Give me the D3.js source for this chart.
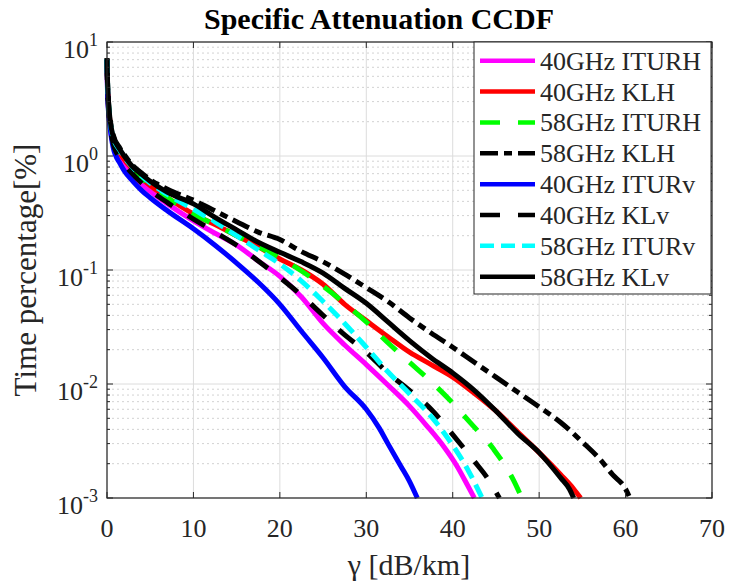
<!DOCTYPE html>
<html>
<head>
<meta charset="utf-8">
<script src="https://cdn.jsdelivr.net/npm/d3@7"></script>
<style>
  body { margin: 0; background: #fff; }
  svg { display: block; }
  svg text { font-family: "Liberation Serif", "Times New Roman", serif; }
</style>
</head>
<body>
<svg id="chart" width="729" height="586" font-family="Liberation Serif, serif"></svg>
<script>
// values (gamma in dB/km, time percentage in %)
const g40ITURH = [0, 0.05, 0.15, 0.35, 0.7, 1.5, 2, 3, 4, 5, 7, 10, 12.5, 15, 17.5, 20, 22.5, 25, 27.5, 30, 32.5, 35, 37, 39, 40.5, 41.7, 42.5];
const p40ITURH = [7, 4.2, 2.75, 1.85, 1.27, 0.94, 0.82, 0.67, 0.57, 0.49, 0.38, 0.27, 0.21, 0.165, 0.12, 0.088, 0.058, 0.034, 0.022, 0.0148, 0.0098, 0.0064, 0.0043, 0.0028, 0.0019, 0.0013, 0.001];

const g40KLH = [0, 0.05, 0.15, 0.35, 0.7, 1.5, 2, 3, 4, 5, 7, 10, 12.5, 15, 17.5, 20, 22.5, 25, 27.5, 30, 32.5, 35, 37.5, 40, 42.5, 45, 47.5, 50, 52.5, 54, 54.8];
const p40KLH = [7, 4.5, 3.0, 1.98, 1.4, 1.06, 0.93, 0.76, 0.64, 0.55, 0.43, 0.31, 0.25, 0.2, 0.16, 0.125, 0.1, 0.075, 0.05, 0.036, 0.026, 0.019, 0.0148, 0.0115, 0.0083, 0.0058, 0.0038, 0.0025, 0.0016, 0.0012, 0.001];

const g58ITURH = [0, 0.05, 0.15, 0.35, 0.7, 1.5, 2, 3, 4, 5, 7, 10, 12.5, 15, 17.5, 20, 22.5, 25, 27.5, 30, 32.5, 35, 37.5, 40, 42, 44.7, 47, 48];
const p58ITURH = [7, 4.5, 3.0, 1.98, 1.4, 1.06, 0.93, 0.76, 0.64, 0.55, 0.43, 0.31, 0.25, 0.2, 0.16, 0.128, 0.098, 0.072, 0.051, 0.035, 0.023, 0.0155, 0.0105, 0.0068, 0.0046, 0.0027, 0.00145, 0.001];

const g58KLH = [0, 0.05, 0.15, 0.35, 0.7, 1.5, 2, 3, 4, 5, 7, 10, 12.5, 15, 17.5, 20, 22.5, 25, 27.5, 30, 32.5, 35, 37.5, 40, 42.5, 45, 47.5, 50, 52.5, 55, 57, 58.5, 60, 60.5];
const p58KLH = [7.2, 4.8, 3.2, 2.15, 1.55, 1.17, 1.03, 0.82, 0.71, 0.62, 0.51, 0.41, 0.33, 0.265, 0.215, 0.185, 0.145, 0.118, 0.092, 0.07, 0.053, 0.038, 0.028, 0.021, 0.0155, 0.0115, 0.0085, 0.0063, 0.0046, 0.0031, 0.0022, 0.0016, 0.0012, 0.001];

const g40ITURv = [0, 0.05, 0.15, 0.35, 0.7, 1.5, 2, 3, 4, 5, 7, 10, 12.5, 15, 17.5, 20, 22.5, 25, 27.5, 30, 31.5, 32.5, 34, 35, 35.9];
const p40ITURv = [7, 4.0, 2.6, 1.8, 1.2, 0.86, 0.74, 0.6, 0.5, 0.43, 0.33, 0.23, 0.165, 0.115, 0.078, 0.05, 0.029, 0.017, 0.0095, 0.006, 0.0041, 0.003, 0.0019, 0.0014, 0.001];

const g40KLv = [0, 0.05, 0.15, 0.35, 0.7, 1.5, 2, 3, 4, 5, 7, 10, 12.5, 15, 17.5, 20, 22.5, 25, 27.5, 30, 32.5, 35, 37.5, 40, 42.5, 44, 45.4];
const p40KLv = [7, 4.3, 2.8, 1.9, 1.3, 0.96, 0.85, 0.69, 0.58, 0.5, 0.39, 0.28, 0.215, 0.165, 0.12, 0.086, 0.06, 0.04, 0.027, 0.019, 0.0125, 0.0088, 0.006, 0.0036, 0.0021, 0.0015, 0.001];

const g58ITURv = [0, 0.05, 0.15, 0.35, 0.7, 1.5, 2, 3, 4, 5, 7, 10, 12.5, 15, 17.5, 20, 22.5, 25, 27.5, 30, 32.5, 35, 37.5, 40, 41.7, 43.4];
const p58ITURv = [7.1, 4.7, 3.1, 2.05, 1.47, 1.12, 0.98, 0.79, 0.67, 0.58, 0.46, 0.34, 0.265, 0.2, 0.15, 0.113, 0.08, 0.053, 0.034, 0.021, 0.0128, 0.0082, 0.0052, 0.0029, 0.0018, 0.001];

const g58KLv = [0, 0.05, 0.15, 0.35, 0.7, 1.5, 2, 3, 4, 5, 7, 10, 12.5, 15, 17.5, 20, 22.5, 25, 27.5, 30, 32.5, 35, 37.5, 40, 42.5, 45, 47.5, 50, 52.5, 53.5, 54];
const p58KLv = [7.2, 4.8, 3.2, 2.1, 1.5, 1.14, 1.0, 0.8, 0.69, 0.6, 0.48, 0.38, 0.29, 0.225, 0.175, 0.143, 0.118, 0.094, 0.069, 0.051, 0.035, 0.024, 0.017, 0.0125, 0.0088, 0.0058, 0.0037, 0.0025, 0.0015, 0.0012, 0.001];

const seriesNames = ["40GHz ITURH", "40GHz KLH", "58GHz ITURH", "58GHz KLH", "40GHz ITURv", "40GHz KLv", "58GHz ITURv", "58GHz KLv"];
const xTicks = [0, 10, 20, 30, 40, 50, 60, 70];
const yExponents = [1, 0, -1, -2, -3];

// styles per series (same order as names)
const styles = [
    { color: "#ff00ff", dash: null },
    { color: "#ff0000", dash: null },
    { color: "#00ff00", dash: "20,18" },
    { color: "#000000", dash: "18,6,8,6" },
    { color: "#0000ff", dash: null },
    { color: "#000000", dash: "20,18" },
    { color: "#00ffff", dash: "14,7" },
    { color: "#000000", dash: null }
];

const series = [
    [g40ITURH, p40ITURH], [g40KLH, p40KLH], [g58ITURH, p58ITURH], [g58KLH, p58KLH],
    [g40ITURv, p40ITURv], [g40KLv, p40KLv], [g58ITURv, p58ITURv], [g58KLv, p58KLv]
].map(([g, p], i) => ({
    name: seriesNames[i],
    style: styles[i],
    points: g.map((v, j) => ({ g: v, p: p[j] }))
}));

const svg = d3.select("#chart");
const plotLeft = 107, plotRight = 712, plotTop = 42, plotBottom = 498;
const axisColor = "#262626";

const x = d3.scaleLinear().domain([0, 70]).range([plotLeft, plotRight]);
const y = d3.scaleLog().domain([1e-3, 10]).range([plotBottom, plotTop]);

// grid
const grid = svg.append("g");
const minorVals = [];
for (let e = -3; e < 1; e++) {
    for (let k = 2; k <= 9; k++) minorVals.push(k * Math.pow(10, e));
}
grid.selectAll(".minor")
    .data(minorVals)
    .enter()
    .append("line")
    .attr("x1", plotLeft).attr("x2", plotRight)
    .attr("y1", d => y(d)).attr("y2", d => y(d))
    .attr("stroke", "#d2d2d2")
    .attr("stroke-width", 1)
    .attr("stroke-dasharray", "2,3");

grid.selectAll(".majorY")
    .data(yExponents)
    .enter()
    .append("line")
    .attr("x1", plotLeft).attr("x2", plotRight)
    .attr("y1", d => y(Math.pow(10, d))).attr("y2", d => y(Math.pow(10, d)))
    .attr("stroke", "#dcdcdc")
    .attr("stroke-width", 1);

grid.selectAll(".majorX")
    .data(xTicks)
    .enter()
    .append("line")
    .attr("x1", d => x(d)).attr("x2", d => x(d))
    .attr("y1", plotTop).attr("y2", plotBottom)
    .attr("stroke", "#dcdcdc")
    .attr("stroke-width", 1);

// curves
const line = d3.line()
    .x(d => x(d.g))
    .y(d => y(d.p))
    .curve(d3.curveMonotoneX);

svg.append("g")
    .selectAll("path")
    .data(series)
    .enter()
    .append("path")
    .attr("d", d => line(d.points))
    .attr("fill", "none")
    .attr("stroke", d => d.style.color)
    .attr("stroke-width", 5)
    .attr("stroke-dasharray", d => d.style.dash);

// frame and ticks
const axes = svg.append("g");
axes.append("rect")
    .attr("x", plotLeft).attr("y", plotTop)
    .attr("width", plotRight - plotLeft).attr("height", plotBottom - plotTop)
    .attr("fill", "none")
    .attr("stroke", axisColor)
    .attr("stroke-width", 1.2);

xTicks.forEach(t => {
    axes.append("line").attr("x1", x(t)).attr("x2", x(t)).attr("y1", plotBottom).attr("y2", plotBottom - 6).attr("stroke", axisColor);
    axes.append("line").attr("x1", x(t)).attr("x2", x(t)).attr("y1", plotTop).attr("y2", plotTop + 6).attr("stroke", axisColor);
});
yExponents.forEach(e => {
    const yy = y(Math.pow(10, e));
    axes.append("line").attr("x1", plotLeft).attr("x2", plotLeft + 6).attr("y1", yy).attr("y2", yy).attr("stroke", axisColor);
    axes.append("line").attr("x1", plotRight).attr("x2", plotRight - 6).attr("y1", yy).attr("y2", yy).attr("stroke", axisColor);
});
minorVals.forEach(v => {
    const yy = y(v);
    axes.append("line").attr("x1", plotLeft).attr("x2", plotLeft + 3).attr("y1", yy).attr("y2", yy).attr("stroke", axisColor);
    axes.append("line").attr("x1", plotRight).attr("x2", plotRight - 3).attr("y1", yy).attr("y2", yy).attr("stroke", axisColor);
});

// tick labels
axes.selectAll(".xlab")
    .data(xTicks)
    .enter()
    .append("text")
    .attr("x", d => x(d))
    .attr("y", 537)
    .attr("text-anchor", "middle")
    .attr("font-size", 26)
    .attr("fill", axisColor)
    .text(d => d);

const yLabels = axes.selectAll(".ylab")
    .data(yExponents)
    .enter()
    .append("text")
    .attr("x", 98)
    .attr("y", d => y(Math.pow(10, d)) + 16)
    .attr("text-anchor", "end")
    .attr("font-size", 26)
    .attr("fill", axisColor);
yLabels.append("tspan").text("10");
yLabels.append("tspan").attr("dy", -12).attr("font-size", 18).text(d => d);

// axis titles
svg.append("text")
    .attr("x", 379)
    .attr("y", 29)
    .attr("text-anchor", "middle")
    .attr("font-size", 30)
    .attr("font-weight", "bold")
    .text("Specific Attenuation CCDF");

svg.append("text")
    .attr("x", 409)
    .attr("y", 575)
    .attr("text-anchor", "middle")
    .attr("font-size", 30)
    .attr("fill", axisColor)
    .text("γ [dB/km]");

svg.append("text")
    .attr("transform", `translate(36,${(plotTop + plotBottom) / 2}) rotate(-90)`)
    .attr("text-anchor", "middle")
    .attr("font-size", 31)
    .attr("fill", axisColor)
    .text("Time percentage[%]");

// legend
const legend = svg.append("g");
legend.append("rect")
    .attr("x", 474).attr("y", 42)
    .attr("width", 237).attr("height", 252)
    .attr("fill", "#fff")
    .attr("stroke", axisColor)
    .attr("stroke-width", 1);

const rows = legend.selectAll(".row")
    .data(series)
    .enter()
    .append("g")
    .attr("transform", (d, i) => `translate(0,${60.7 + i * 30.86})`);
rows.append("line")
    .attr("x1", 480).attr("x2", 535)
    .attr("stroke", d => d.style.color)
    .attr("stroke-width", 4.5)
    .attr("stroke-dasharray", d => d.style.dash);
rows.append("text")
    .attr("x", 540)
    .attr("y", 9)
    .attr("font-size", 26)
    .attr("fill", axisColor)
    .text(d => d.name);
</script>
</body>
</html>
